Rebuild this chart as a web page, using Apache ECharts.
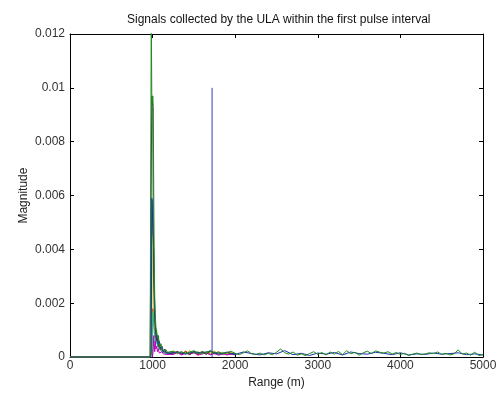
<!DOCTYPE html>
<html>
<head>
<meta charset="utf-8">
<script src="https://cdn.jsdelivr.net/npm/echarts@6/dist/echarts.min.js"></script>
<style>
html,body{margin:0;padding:0;background:#fff;}
#chart{width:500px;height:394px;}
</style>
</head>
<body>
<div id="chart"></div>
<script>
// range samples (m)
var headRange = [0, 970, 978, 984, 990, 996, 1002, 1008, 1014, 1020, 1026, 1032, 1040, 1050, 1060, 1070, 1080, 1090, 1100, 1115, 1130, 1145, 1160, 1180, 1200];
var shortTailRange = [1250, 1300, 1350, 1400, 1450, 1500, 1550, 1600, 1650, 1700, 1750, 1800, 1850, 1900, 1950, 2000];
var longTailRange = [1250, 1300, 1350, 1400, 1450, 1500, 1550, 1600, 1650, 1700,
  1750, 1800, 1850, 1900, 1950, 2000, 2050, 2100, 2150, 2200,
  2250, 2300, 2350, 2400, 2450, 2500, 2550, 2600, 2650, 2700,
  2750, 2800, 2850, 2900, 2950, 3000, 3050, 3100, 3150, 3200,
  3250, 3300, 3350, 3400, 3450, 3500, 3550, 3600, 3650, 3700,
  3750, 3800, 3850, 3900, 3950, 4000, 4050, 4100, 4150, 4200,
  4250, 4300, 4350, 4400, 4450, 4500, 4550, 4600, 4650, 4700,
  4750, 4800, 4850, 4900, 4950, 5000];
var blueTailRange = [1300, 1400, 1500, 1600, 1700, 1800, 1900, 2000, 2100, 2200,
  2300, 2400, 2500, 2600, 2700, 2800, 2900, 3000, 3100, 3200,
  3300, 3400, 3500, 3600, 3700, 3800, 3900, 4000, 4100, 4200,
  4300, 4400, 4500, 4600, 4700, 4800, 4900, 5000];

// magnitudes near the echo
var greenHead   = [0, 0, 0, 0.0128, 0.0098, 0.0094, 0.0097, 0.0093, 0.006, 0.0036, 0.0022, 0.0016, 0.0011, 0.0009, 0.0007, 0.0008, 0.0005, 0.0004, 0.0005, 0.0003, 0.00035, 0.0002, 0.00028, 0.00018, 0.00024];
var blueHead    = [0, 0, 0, 0.0002, 0.0059, 0.0058, 0.0047, 0.0044, 0.0039, 0.0026, 0.0019, 0.0013, 0.001, 0.0007, 0.0008, 0.0005, 0.0006, 0.0004, 0.0003, 0.0004, 0.0002, 0.0003, 0.00018, 0.00025, 0.00015];
var yellowHead  = [0, 0, 0, 0, 0.0003, 0.0052, 0.0049, 0.0035, 0.0024, 0.0016, 0.0012, 0.001, 0.0009, 0.001, 0.0006, 0.0007, 0.0004, 0.0005, 0.0003, 0.00036, 0.00022, 0.0003, 0.0002, 0.00026, 0.00016];
var blackHead   = [0, 0, 0, 0, 0.0097, 0.0095, 0.0093, 0.0052, 0.003, 0.0019, 0.0014, 0.0011, 0.0008, 0.0006, 0.0007, 0.0004, 0.0005, 0.0003, 0.00035, 0.00025, 0.0003, 0.0002, 0.00024, 0.00015, 0.0002];
var redHead     = [0, 0, 0, 0, 0, 0.0002, 0.0018, 0.0016, 0.0013, 0.0011, 0.001, 0.0008, 0.0006, 0.0007, 0.0005, 0.0004, 0.0003, 0.00035, 0.00025, 0.0003, 0.00018, 0.00022, 0.00014, 0.0002, 0.00012];
var cyanHead    = [0, 0, 0, 0, 0, 0.0001, 0.0015, 0.0017, 0.0012, 0.0009, 0.0008, 0.0007, 0.0005, 0.0006, 0.0004, 0.00045, 0.0003, 0.00025, 0.0003, 0.0002, 0.00024, 0.00015, 0.0002, 0.00013, 0.00018];
var magentaHead = [0, 0, 0, 0, 0, 0, 0.0001, 0.0003, 0.0008, 0.0005, 0.0002, 0.0006, 0.0003, 0.0004, 0.0002, 0.0003, 0.00015, 0.00022, 0.0001, 0.0002, 0.00012, 0.00018, 0.0001, 0.00015, 0.0001];

// noise floor after the echo
var redTail     = [0.00015, 0.0002, 0.0001, 0.00022, 0.00012, 0.00018, 0.00009, 0.0002, 0.00014, 0.00011, 0.00019, 0.0001, 0.00016, 0.00008, 0.00013, 0.0001];
var cyanTail    = [0.0002, 0.00012, 0.00018, 0.0001, 0.00021, 0.00013, 0.00017, 0.00011, 0.0002, 0.00009, 0.00015, 0.00012, 0.00018, 0.0001, 0.00014, 0.00009];
var magentaTail = [0.0001, 0.00016, 0.00008, 0.00014, 0.0001, 0.00017, 0.00007, 0.00012, 0.00015, 0.00009, 0.00013, 0.00007, 0.00012, 0.00009, 0.00011, 0.00008];
var yellowTail  = [0.00022, 0.00014, 0.0002, 0.00011, 0.00024, 0.00015, 0.0002, 0.00012, 0.00019, 0.00016, 0.00022, 0.00011, 0.00017, 0.00013, 0.00018, 0.0001];
var blackTail   = [0.00012, 0.00021, 0.00014, 0.00019, 0.00009, 0.0002, 0.00013, 0.00018, 0.0001, 0.00022, 0.00012, 0.00017, 0.00011, 0.00019, 0.00012, 0.00015];
var greenTail = [0.00022, 0.00015, 0.0002, 0.00012, 0.00018, 0.00024, 0.00013, 0.00021, 0.00016, 0.00025,
  0.00014, 0.0002, 0.00011, 0.00017, 0.00022, 0.00013, 0.00009, 0.00016, 0.00023, 0.00012,
  0.0001, 0.00015, 0.00008, 0.00014, 0.00009, 0.00018, 0.0003, 0.00016, 0.00011, 0.00019,
  0.00007, 0.00012, 0.00006, 0.00013, 0.0002, 0.0001, 0.00017, 0.00008, 0.00019, 0.00011,
  0.00021, 0.00009, 0.00024, 0.00012, 0.00018, 0.00007, 0.00016, 0.00022, 0.00013, 0.00023,
  0.00018, 0.00015, 0.0002, 0.00011, 0.00017, 0.0001, 0.00014, 0.00006, 0.00011, 0.00015,
  0.00009, 0.00012, 0.00016, 0.00013, 0.00019, 0.0001, 0.00014, 0.00008, 0.00012, 0.00027,
  0.00011, 0.00015, 0.00007, 0.00018, 0.00006, 0.00009];
var blueTail = [0.00018, 0.00012, 0.0002, 0.00015, 0.00022, 0.00011, 0.00017, 0.0001, 0.00019, 0.00013,
  0.00008, 0.00016, 0.00012, 0.00024, 0.00009, 0.00014, 0.00006, 0.00015, 0.00011, 0.00017,
  0.00008, 0.00019, 0.00013, 0.00011, 0.00018, 0.00014, 0.00009, 0.00016, 0.00008, 0.00012,
  0.0001, 0.00015, 0.00011, 0.00013, 0.00016, 0.00009, 0.00012, 0.00008];

// the lone spike further out
var markerRange = [1720, 1720];
var markerMag = [0, 0.01];

var xTicks = [0, 1000, 2000, 3000, 4000, 5000];
var yTicks = [0, 0.002, 0.004, 0.006, 0.008, 0.01, 0.012];

function pairs(xs, ys) {
  var out = [];
  for (var i = 0; i < xs.length; i++) out.push([xs[i], ys[i]]);
  return out;
}

function line(name, color, data) {
  return {
    name: name, type: 'line', data: data, symbol: 'none',
    lineStyle: { color: color, width: 1 }, itemStyle: { color: color },
    clip: true
  };
}

var font = 'Liberation Sans, Arial, sans-serif';

var myChart = echarts.init(document.getElementById('chart'));
myChart.setOption({
  animation: false,
  backgroundColor: '#fff',
  title: {
    text: 'Signals collected by the ULA within the first pulse interval',
    left: 122, top: 9,
    textStyle: { fontSize: 12, fontWeight: 'normal', color: '#111', fontFamily: font }
  },
  grid: { left: 70, right: 17, top: 34, bottom: 36 },
  xAxis: [
    {
      type: 'value', min: xTicks[0], max: xTicks[xTicks.length - 1], interval: 1000,
      name: 'Range (m)', nameLocation: 'middle', nameGap: 17,
      nameTextStyle: { fontSize: 12, color: '#222', fontFamily: font },
      axisLine: { lineStyle: { color: '#000' } },
      axisTick: { inside: true, length: 4, lineStyle: { color: '#000' } },
      axisLabel: {
        fontSize: 12, color: '#333', fontFamily: font, margin: 3,
        formatter: function (v) { return String(v); }
      },
      splitLine: { show: false }
    },
    {
      type: 'value', position: 'top', min: 0, max: 5000, interval: 1000,
      axisLine: { onZero: false, lineStyle: { color: '#000' } },
      axisTick: { inside: true, length: 4, lineStyle: { color: '#000' } },
      axisLabel: { show: false }, splitLine: { show: false }
    }
  ],
  yAxis: [
    {
      type: 'value', min: yTicks[0], max: yTicks[yTicks.length - 1], interval: 0.002,
      name: 'Magnitude', nameLocation: 'middle', nameGap: 40, nameMoveOverlap: false,
      nameTextStyle: { fontSize: 12, color: '#222', fontFamily: font },
      axisLine: { show: true, lineStyle: { color: '#000' } },
      axisTick: { show: true, inside: true, length: 4, lineStyle: { color: '#000' } },
      axisLabel: {
        fontSize: 12, color: '#333', fontFamily: font, margin: 5,
        formatter: function (v) { return String(+v.toFixed(3)); }
      },
      splitLine: { show: false }
    },
    {
      type: 'value', position: 'right', min: 0, max: 0.012, interval: 0.002,
      axisLine: { show: true, onZero: false, lineStyle: { color: '#000' } },
      axisTick: { show: true, inside: true, length: 4, lineStyle: { color: '#000' } },
      axisLabel: { show: false }, splitLine: { show: false }
    }
  ],
  series: [
    line('marker', '#3c3cb4', pairs(markerRange, markerMag)),
    line('red', '#ff0000', pairs(headRange.concat(shortTailRange), redHead.concat(redTail))),
    line('cyan', '#00bfbf', pairs(headRange.concat(shortTailRange), cyanHead.concat(cyanTail))),
    line('magenta', '#bf00bf', pairs(headRange.concat(shortTailRange), magentaHead.concat(magentaTail))),
    line('yellow', '#bfbf00', pairs(headRange.concat(shortTailRange), yellowHead.concat(yellowTail))),
    line('black', '#404040', pairs(headRange.concat(shortTailRange), blackHead.concat(blackTail))),
    line('blue', '#1c2fb0', pairs(headRange.concat(blueTailRange), blueHead.concat(blueTail))),
    line('green', '#1e8a1e', pairs(headRange.concat(longTailRange), greenHead.concat(greenTail)))
  ]
});
</script>
</body>
</html>
